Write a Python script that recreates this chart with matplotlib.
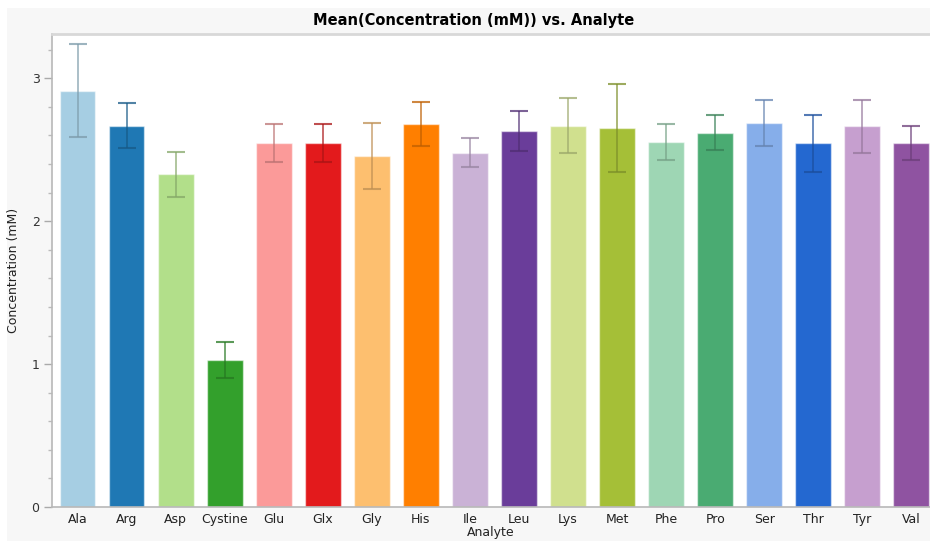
import matplotlib.pyplot as plt
from matplotlib.patches import Rectangle
from matplotlib.colors import to_rgb
from matplotlib.ticker import MultipleLocator

analytes = ["Ala", "Arg", "Asp", "Cystine", "Glu", "Glx", "Gly", "His", "Ile",
            "Leu", "Lys", "Met", "Phe", "Pro", "Ser", "Thr", "Tyr", "Val"]
means = [2.914, 2.669, 2.329, 1.028, 2.548, 2.548, 2.455, 2.678, 2.480,
         2.632, 2.669, 2.653, 2.555, 2.618, 2.688, 2.545, 2.664, 2.548]
errors = [0.325, 0.160, 0.157, 0.124, 0.133, 0.133, 0.230, 0.155, 0.100,
          0.138, 0.190, 0.307, 0.128, 0.122, 0.162, 0.200, 0.184, 0.118]
colors = ["#a6cee3", "#1f78b4", "#b2df8a", "#33a02c", "#fb9a99", "#e31a1c",
          "#fdbf6f", "#ff7f00", "#cab2d6", "#6a3d9a", "#d0e08e", "#a5bf37",
          "#9ed6b4", "#4aab72", "#86aeea", "#2468d0", "#c69fcf", "#8f53a1"]


def darker(c, f=0.75):
    r, g, b = to_rgb(c)
    return (r * f, g * f, b * f, 0.75)


fig = plt.figure(figsize=(9.3, 5.41), dpi=100, facecolor="white")
fig.patches.append(Rectangle((7 / 930, 0), 1, 1 - 8 / 541, transform=fig.transFigure,
                             facecolor="#f7f7f7", edgecolor="none", zorder=-10))

ax = fig.add_axes([52 / 930, 34 / 541, 1 - 52 / 930, (507 - 34) / 541])
ax.set_facecolor("white")

x = list(range(len(analytes)))
ax.bar(x, means, width=0.73, color=colors, edgecolor=(1, 1, 1, 0.5), linewidth=1, zorder=2)
for xi, m, e, c in zip(x, means, errors, colors):
    ax.errorbar(xi, m, yerr=e, fmt="none", ecolor=darker(c), elinewidth=1.2,
                capsize=6.5, capthick=1.5, zorder=3)

ax.set_xlim(-0.52, 17.38)
ax.set_ylim(0, 3.31)
ax.yaxis.set_major_locator(MultipleLocator(1))
ax.yaxis.set_minor_locator(MultipleLocator(0.2))
ax.set_xticks(x)
ax.set_xticklabels(analytes)

ax.tick_params(axis="x", length=0, pad=4, labelsize=9, colors="#222222")
ax.tick_params(axis="y", which="major", length=6, width=1, color="#aaaaaa",
               labelsize=9, labelcolor="#333333", pad=3)
ax.tick_params(axis="y", which="minor", length=3, width=1, color="#bbbbbb")

for side in ["left", "bottom"]:
    ax.spines[side].set_color("#b8b8b8")
    ax.spines[side].set_linewidth(1.2)
ax.spines["top"].set_color("#d8d8d8")
ax.spines["top"].set_linewidth(2)
ax.spines["right"].set_visible(False)

ax.set_ylabel("Concentration (mM)", fontsize=9, color="#222222", labelpad=8)
ax.set_xlabel("Analyte", fontsize=9, color="#222222", labelpad=0)

fig.text(474 / 930, 1 - 20 / 541, "Mean(Concentration (mM)) vs. Analyte",
         ha="center", va="center", fontsize=10.5, fontweight="bold")

fig.savefig("out.png", dpi=100)
